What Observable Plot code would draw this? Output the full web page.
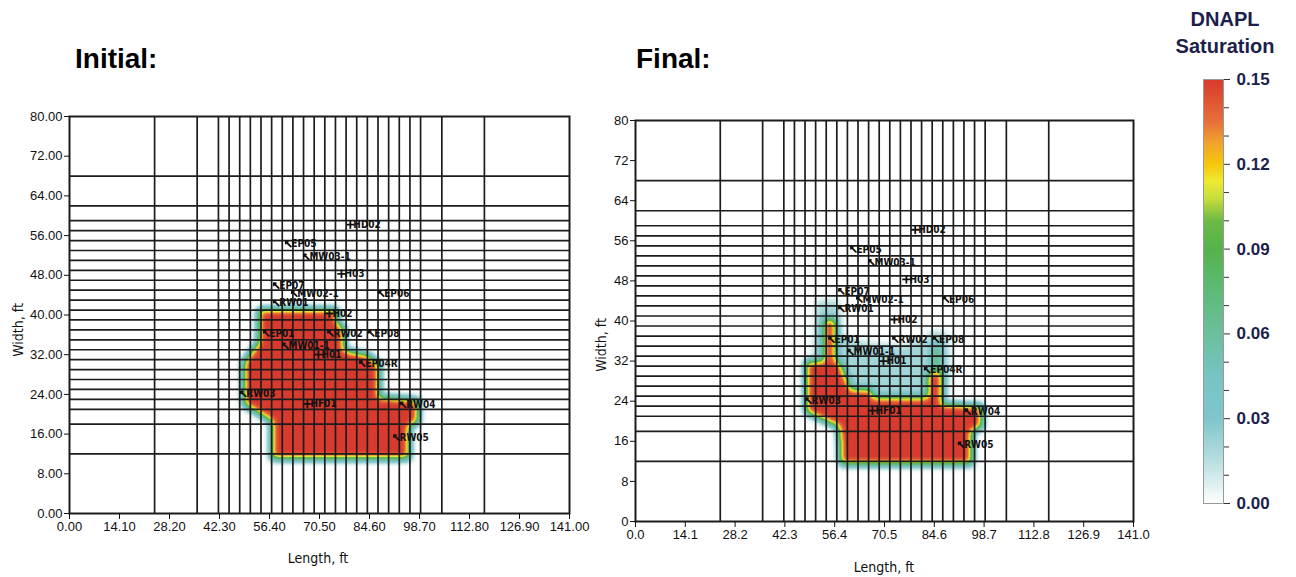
<!DOCTYPE html>
<html><head><meta charset="utf-8">
<script src="https://cdn.jsdelivr.net/npm/d3@7"></script>
<script src="https://cdn.jsdelivr.net/npm/@observablehq/plot@0.6"></script>
<style>
body{margin:0;background:#fff;width:1296px;height:577px;position:relative;overflow:hidden;font-family:"Liberation Sans",Arial,sans-serif}
.abs{position:absolute}
.title{font-weight:bold;font-size:28px;color:#000;line-height:30px}
.ltitle{font-weight:bold;font-size:20px;color:#1e1e4b;line-height:27px;text-align:center;width:130px}
.alab{font-size:14px;color:#111;white-space:nowrap;font-family:"Liberation Sans Narrow","DejaVu Sans Condensed","Liberation Sans",sans-serif}
svg{max-width:none !important}
</style></head><body>
<div class="abs title" style="left:75px;top:44px">Initial:</div>
<div class="abs title" style="left:636px;top:44px">Final:</div>
<div id="left" class="abs" style="left:0;top:0"></div>
<div id="right" class="abs" style="left:566px;top:0"></div>
<div id="legend" class="abs" style="left:1150px;top:0"></div>
<div class="abs ltitle" style="left:1160px;top:6px">DNAPL<br>Saturation</div>
<div class="abs alab" style="left:318px;top:558px;transform:translate(-50%,-50%)">Length, ft</div>
<div class="abs alab" style="left:884px;top:567px;transform:translate(-50%,-50%)">Length, ft</div>
<div class="abs alab" style="left:18px;top:330px;transform:translate(-50%,-50%) rotate(-90deg)">Width, ft</div>
<div class="abs alab" style="left:601px;top:345px;transform:translate(-50%,-50%) rotate(-90deg)">Width, ft</div>
<script>
// ---- model grid lines (ft) ----
const xGridFt = [24,36,42,45,48,51,54,57,60,63,66,69,72,75,78,81,84,87,90,93,96,99,105,117];
const yGridFt = [12,18,21,23,25,27,29,31,33,35,37,39,41,43,45,47,49,51,53,55,57,59,62,68];

// ---- axis ticks ----
const xTicks = [0,14.1,28.2,42.3,56.4,70.5,84.6,98.7,112.8,126.9,141];
const yTicks = [0,8,16,24,32,40,48,56,64,72,80];
const xTickLabelsInitial = ["0.00","14.10","28.20","42.30","56.40","70.50","84.60","98.70","112.80","126.90","141.00"];
const yTickLabelsInitial = ["0.00","8.00","16.00","24.00","32.00","40.00","48.00","56.00","64.00","72.00","80.00"];
const xTickLabelsFinal = ["0.0","14.1","28.2","42.3","56.4","70.5","84.6","98.7","112.8","126.9","141.0"];
const yTickLabelsFinal = ["0","8","16","24","32","40","48","56","64","72","80"];

// ---- wells ----
const wellNames = ["HD02","EP05","MW03-1","H03","EP07","MW02-1","EP06","RW01","H02","EP01","RW02","EP08","MW01-1","H01","EP04R","RW03","HF01","RW04","RW05"];
const wellX = [79.2,61.7,66.8,76.7,58.3,63.4,87.9,58.3,73.3,55.5,73.6,85.1,60.9,70.2,82.6,49.0,67.1,94.1,92.2];
const wellY = [58.2,54.3,51.7,48.3,45.9,44.3,44.3,42.4,40.3,36.3,36.3,36.3,33.8,32.0,30.2,24.1,22.1,21.9,15.3];
const wellKind = ["plus","arrow","arrow","plus","arrow","arrow","arrow","arrow","plus","arrow","arrow","arrow","arrow","plus","arrow","arrow","plus","arrow","arrow"];

// ---- DNAPL saturation zones (polygon outlines in ft, saturation value) ----
const initialZone = [[53.2,41.2],[75.5,41.2],[75.5,38.5],[77.5,37.5],[77.5,33.0],[84.5,32.0],[87.5,30.0],[87.5,23.5],[98.5,23.0],[98.5,18.5],[96.0,17.5],[96.0,11.0],[57.0,11.0],[57.0,18.5],[49.0,22.0],[49.0,30.5],[53.2,34.5]];
const initialZoneSat = 0.15;
const finalCoreZone = [[48.1,32.1],[53.2,32.1],[53.2,40.4],[56.8,40.4],[56.8,32.0],[58.0,31.8],[61.0,26.5],[67.0,26.4],[67.0,24.8],[82.6,24.8],[82.6,29.8],[86.8,29.8],[86.8,23.5],[98.1,23.1],[98.1,18.8],[95.3,18.0],[95.3,11.5],[58.0,11.5],[57.5,18.8],[48.1,21.8]];
const finalCoreSat = 0.15;
const finalResidualZone = [[51.5,44.0],[57.5,44.0],[58.5,37.0],[66,35.5],[76,35.0],[82,36.5],[84,38.0],[88.5,37.5],[89,30],[88,24],[60,24],[50,31]];
const finalResidualSat = 0.021;
const finalTailZone = [[83.8,29],[86.2,29],[86.2,35.5],[84.4,35.5]];
const finalTailSat = 0.08;

// ---- colour bar ----
const satStops  = [0, 0.015, 0.03, 0.045, 0.06, 0.075, 0.09, 0.10, 0.108, 0.114, 0.12, 0.128, 0.135, 0.15];
const satColors = ["#ffffff","#b8dfe0","#7fc6cc","#78c3c4","#6cbf9c","#5fba78","#54b34c","#6cba45","#c8de3c","#eeea32","#f6c80a","#f0a030","#e8703a","#d93a2e"];
const legendTicks = [0,0.03,0.06,0.09,0.12,0.15];
const legendMinorTicks = [0.01,0.02,0.04,0.05,0.07,0.08,0.10,0.11,0.13,0.14];

const colorOpts = {type:"linear", domain: satStops, range: satColors, clamp:true};

// sample the zones on a fine grid and smooth the values (like the model's contouring)
const GW = 500, GH = 400;
function fieldGrid(zones){
  const data = new Float64Array(GW*GH);
  for (let j = 0; j < GH; j++) {
    const y = 80 - (j + 0.5) * 80 / GH;
    for (let i = 0; i < GW; i++) {
      const x = (i + 0.5) * 141 / GW;
      let v = 0;
      for (const z of zones) if (z.value > v && d3.polygonContains(z.poly, [x, y])) v = z.value;
      data[j*GW + i] = v;
    }
  }
  d3.blur2({data, width: GW}, 3);
  return Array.from(data);
}

const wells = wellNames.map((n,i)=>({name:n, x:wellX[i], y:wellY[i], kind:wellKind[i]}));

function panel({zones, xLabels, yLabels, mL, mT, mB, w, frameW}){
  return Plot.plot({
    width: w, height: 577,
    marginLeft: mL, marginRight: w - mL - frameW, marginTop: mT, marginBottom: mB,
    style:{fontFamily:"'Liberation Sans', Arial, sans-serif", fontSize:"13px", color:"#111", background:"transparent"},
    x:{domain:[0,141]},
    y:{domain:[0,80]},
    color: colorOpts,
    marks:[
      Plot.raster(fieldGrid(zones), {width:GW, height:GH, x1:0, x2:141, y1:80, y2:0, fill: Plot.identity}),
      Plot.ruleX(xGridFt, {stroke:"#1c1c1c", strokeWidth:1.7}),
      Plot.ruleY(yGridFt, {stroke:"#1c1c1c", strokeWidth:1.7}),
      Plot.frame({stroke:"#1c1c1c", strokeWidth:2}),
      Plot.axisX({ticks:xTicks, tickFormat:(d,i)=>xLabels[i], tickSize:6, tickPadding:2, fontSize:13, label:null}),
      Plot.axisY({ticks:yTicks, tickFormat:(d,i)=>yLabels[i], tickSize:5, tickPadding:2, fontSize:13, label:null}),
      Plot.dot(wells.filter(d=>d.kind==="plus"), {x:"x", y:"y", symbol:"plus", r:2.8, stroke:"#111", strokeWidth:1.8}),
      Plot.vector(wells.filter(d=>d.kind==="arrow"), {x:"x", y:"y", length:7, rotate:-45, anchor:"middle", stroke:"#111", strokeWidth:1.8}),
      Plot.text(wells, {x:"x", y:"y", text:"name", textAnchor:"start", dx:3, fontSize:10, fontWeight:"bold",
        fontFamily:"'Liberation Sans Narrow','DejaVu Sans Condensed',sans-serif", fill:"#111", stroke:"none"})
    ]
  });
}

const initialZones = [{poly: initialZone, value: initialZoneSat}];
const finalZones = [
  {poly: finalCoreZone, value: finalCoreSat},
  {poly: finalTailZone, value: finalTailSat},
  {poly: finalResidualZone, value: finalResidualSat}
];

document.getElementById("left").append(panel({zones: initialZones, xLabels: xTickLabelsInitial, yLabels: yTickLabelsInitial, mL:69, mT:116, mB:64, w:592, frameW:500}));
document.getElementById("right").append(panel({zones: finalZones, xLabels: xTickLabelsFinal, yLabels: yTickLabelsFinal, mL:69, mT:120, mB:56, w:597, frameW:498}));

// legend colour bar
const legend = Plot.plot({
  width:146, height:577, marginLeft:53, marginRight:73, marginTop:79, marginBottom:74,
  style:{fontFamily:"'Liberation Sans', Arial, sans-serif", color:"#1e1e4b", background:"transparent"},
  x:{domain:[0,1], axis:null},
  y:{domain:[0,0.15]},
  color: colorOpts,
  marks:[
    Plot.raster({x1:0,x2:1,y1:0,y2:0.15, fill:(x,y)=>y}),
    Plot.frame({stroke:"#999", strokeWidth:1}),
    Plot.axisY({anchor:"right", ticks:legendMinorTicks, tickSize:5, tickFormat:()=>"", label:null, stroke:"#333"}),
    Plot.axisY({anchor:"right", ticks:legendTicks, tickSize:6, tickPadding:7, tickFormat:d=>d.toFixed(2), label:null,
      fontSize:17, fontWeight:"bold", stroke:"#333"})
  ]
});
document.getElementById("legend").append(legend);
</script>
</body></html>
